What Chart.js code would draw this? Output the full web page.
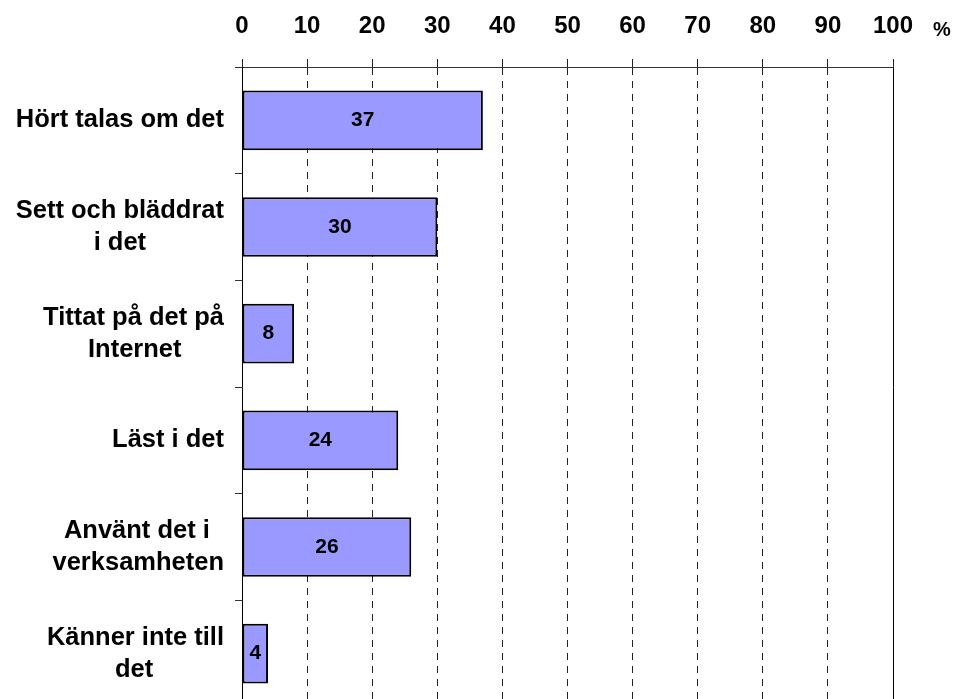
<!DOCTYPE html>
<html>
<head>
<meta charset="utf-8">
<script src="https://cdn.jsdelivr.net/npm/chart.js@4.4.1/dist/chart.umd.min.js"></script>
<style>
  html, body { margin: 0; padding: 0; overflow: hidden; background: #fff; }
  #wrap { width: 958px; height: 710px; }
</style>
</head>
<body>
<div id="wrap"><canvas id="survey-chart"></canvas></div>
<script>
// each category is a list of lines as they wrap in the original
const categories = [
  ['Hört talas om det'],
  ['Sett och bläddrat', 'i det'],
  ['Tittat på det på', 'Internet'],
  ['Läst i det'],
  ['Använt det i', 'verksamheten'],
  ['Känner inte till', 'det'],
];
const values = [37, 30, 8, 24, 26, 4];
const percentTicks = [0, 10, 20, 30, 40, 50, 60, 70, 80, 90, 100];

const FONT = '"Liberation Sans", Arial, sans-serif';
const labelFont = { family: FONT, size: 25.5, weight: 'bold', lineHeight: 1.25 };

// right-aligned block with lines centred inside it (pad short lines with spaces)
const measure = document.createElement('canvas').getContext('2d');
function centerLines(lines) {
  measure.font = 'bold ' + labelFont.size + 'px ' + FONT;
  const space = measure.measureText(' ').width;
  const widths = lines.map(l => measure.measureText(l).width);
  const widest = Math.max(...widths);
  return lines.map((l, i) => l + ' '.repeat(Math.round((widest - widths[i]) / 2 / space)));
}

const barValues = {
  id: 'barValues',
  afterDatasetsDraw(chart) {
    const ctx = chart.ctx;
    ctx.save();
    ctx.font = 'bold 21px ' + FONT;
    ctx.fillStyle = '#000';
    ctx.textAlign = 'center';
    ctx.textBaseline = 'middle';
    chart.getDatasetMeta(0).data.forEach((bar, i) => {
      ctx.fillText(String(values[i]), (bar.x + bar.base) / 2, bar.y);
    });
    ctx.restore();
  }
};

const percentSign = {
  id: 'percentSign',
  afterDraw(chart) {
    const ctx = chart.ctx;
    ctx.save();
    ctx.font = 'bold 20px ' + FONT;
    ctx.fillStyle = '#000';
    ctx.textAlign = 'center';
    ctx.textBaseline = 'alphabetic';
    ctx.fillText('%', chart.chartArea.right + 49, 36);
    ctx.restore();
  }
};

Chart.defaults.color = '#000';
Chart.defaults.font.family = FONT;

new Chart(document.getElementById('survey-chart'), {
  type: 'bar',
  data: {
    labels: categories,
    datasets: [{
      data: values,
      backgroundColor: '#9999FF',
      borderColor: '#000',
      borderWidth: 2,
      borderSkipped: false,
      categoryPercentage: 1,
      barPercentage: 0.56,
    }],
  },
  options: {
    indexAxis: 'y',
    responsive: true,
    maintainAspectRatio: false,
    animation: false,
    layout: { padding: { top: 0, right: 65, bottom: 3, left: 0 } },
    plugins: { legend: { display: false }, tooltip: { enabled: false } },
    scales: {
      x: {
        position: 'top',
        min: 0,
        max: 100,
        afterFit: s => { s.height = 67; },
        afterBuildTicks: s => { s.ticks = percentTicks.map(v => ({ value: v })); },
        grid: {
          color: c => (c.tick && c.tick.value === 0) ? 'rgba(0,0,0,0)' : '#222',
          lineWidth: 1,
          tickColor: '#222',
          tickLength: 8,
        },
        border: { display: true, color: '#333', width: 1, dash: [7, 6] },
        ticks: {
          font: { family: FONT, size: 24, weight: 'bold' },
          padding: 18,
          maxRotation: 0,
          autoSkip: false,
        },
      },
      y: {
        position: 'left',
        afterFit: s => { s.width = 242; s.paddingTop = 0; s.paddingBottom = 0; },
        grid: {
          offset: true,
          drawOnChartArea: false,
          drawTicks: true,
          tickLength: 7,
          tickColor: '#333',
        },
        border: { display: true, color: '#000', width: 1 },
        ticks: {
          font: labelFont,
          padding: 11,
          autoSkip: false,
          callback: (v, i) => centerLines(categories[i]),
        },
      },
      y2: {
        type: 'linear',
        position: 'right',
        min: 0,
        max: 1,
        afterFit: s => { s.width = 0; s.paddingTop = 0; s.paddingBottom = 0; },
        grid: { display: false, drawTicks: false },
        ticks: { display: false },
        border: { display: true, color: '#000', width: 1 },
      },
    },
  },
  plugins: [barValues, percentSign],
});
</script>
</body>
</html>
